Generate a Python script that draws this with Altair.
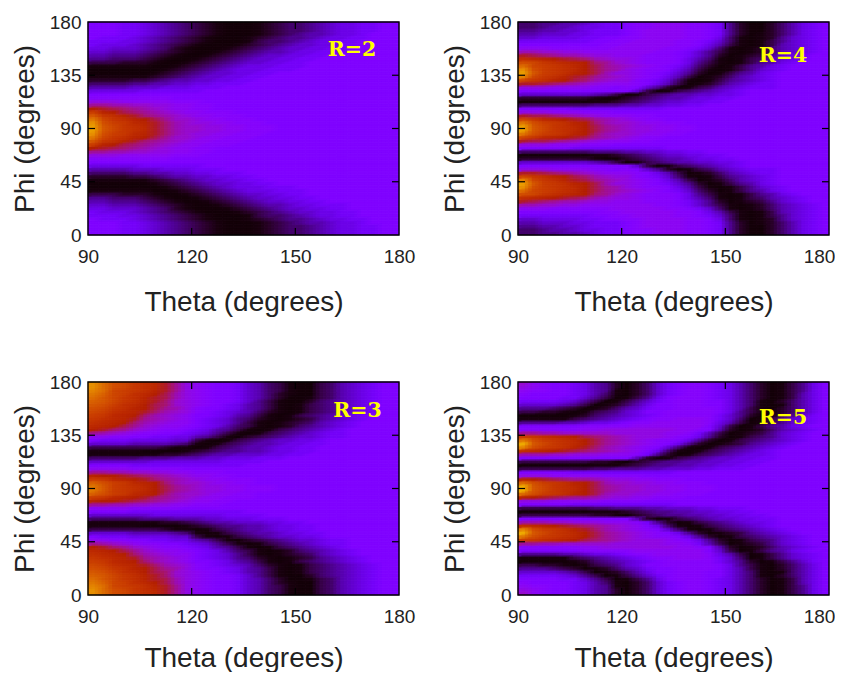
import math
import altair as alt
import pandas as pd

# Intensity, one string per phi row (phi = 1.5, 4.5 ... 88.5),
# one character per theta column (theta = 91.5, 94.5 ... 178.5); the lower half is shown,
# the upper half of each panel mirrors it. Level = index in LEVEL_CHARS.
LEVEL_CHARS = "0123456789abcdefghijklmnopqrstuvwxyz"

R2 = """
aaa99 87654 32100 01234 45678 899aa
aaa99 87654 32100 01234 45678 899aa
aaa99 87654 32100 01234 45678 899aa
aaa99 87654 32100 01234 56678 89aaa
a9998 76543 21000 12345 56788 99aaa
99988 76543 21000 13445 67889 9aaaa
98887 65432 10001 23456 77889 9aaaa
88777 65421 00012 34567 78899 aaaaa
77666 54321 00123 45667 88999 aaaaa
66555 43210 01234 56778 899aa aaaaa
55444 32100 12345 67788 99aaa aaaaa
33322 21001 23456 77889 9aaaa aaaaa
11111 10012 34567 88899 9aaaa aaaaa
00000 00123 45678 88999 aaaaa aaaaa
00000 01234 56778 899aa aaaaa aaaaa
11111 12345 67788 99aaa aaaaa aaaaa
22223 34566 77889 9aaaa aaaaa aaaaa
44445 56677 88999 aaaaa aaaaa aaaaa
66667 77888 999aa aaaaa aaaaa aaaaa
88888 99999 9aaaa aaaaa aaaaa aaaaa
aaaaa aaaaa aaaaa aaaaa aaaaa aaaaa
bbbbb bbbaa aaaaa aaaaa aaaaa aaaaa
dddcc cccbb baaaa aaaaa aaaaa aaaaa
ggffe eddcc bbaaa aaaaa aaaaa aaaaa
kjihg fedcc bbaaa aaaaa aaaaa aaaaa
plkih gfedc cbbba aaaaa aaaaa aaaaa
sonlj hgfed ccbbb aaaaa aaaaa aaaaa
vqonl kigee dccbb baaaa aaaaa aaaaa
xrpom ljhfe ddccb bbaaa aaaaa aaaaa
ysqon mjhfe eddcc bbbaa aaaaa aaaaa
"""

R4 = """
44556 67899 abbcc cbba9 52002 4689a
44566 78899 abbcc cbba9 52002 4689a
55667 78999 abccc cbba9 52002 4689a
66777 88999 abccc cbba9 52012 4689a
77888 899aa bbccc cbba8 41012 5789a
99999 99aab bcccc bba97 41013 5789a
aaaaa aaabb ccccc bba86 31013 6789a
cccbb bbbbc ccccb ba974 10124 6789a
ffeed dcccc cccbb a9753 10124 6789a
jihgf feddc ccbbb a9752 01235 789aa
nmlkj ihfed dcbbb a8641 01346 789aa
rqonm lkhge dcbbb a8531 01356 89aaa
uqpon mkigf edcba 97420 13568 9aaaa
xrpon mkigf dcbba 86310 13578 9aaaa
yspon lkifd dcba9 75201 35689 aaaaa
wqonl jigfe dcba8 63012 46789 aaaaa
qonlk ihfed dba97 41013 56789 aaaaa
jjihg fedcc cba86 30124 67899 aaaaa
dddcc ccbba ba752 01346 78999 aaaaa
aaaaa aaaaa a7301 34567 89aaa aaaaa
77777 77653 01345 66778 89aaa aaaaa
22222 22100 23456 67889 9aaaa aaaaa
00000 00112 34567 78899 aaaaa aaaaa
44444 44555 66778 899aa aaaaa aaaaa
aaaaa 99999 9999a aaaaa aaaaa aaaaa
dddcc cbbba aaaaa aaaaa aaaaa aaaaa
jiihg fedcc cbbaa aaaaa aaaaa aaaaa
qomlk jigfe dcbba aaaaa aaaaa aaaaa
vrpon lkhfe edccb baaaa aaaaa aaaaa
ysqon mkigf eddcc bbaaa aaaaa aaaaa
"""

R3 = """
xurqo nmjgd cbaa9 76431 00346 789aa
xurqo nmjgd cbaa9 76431 00346 789aa
wuqpo nljgd cbaa9 76431 00346 789aa
vtqpn mkifd cbaa9 76421 00346 789aa
usqon ljifd cbaa9 76420 01346 789aa
tsqon ljhed cbaa9 75310 02456 789aa
srpnm kihed cba98 65310 13456 789aa
rqonl kigfd baa98 65310 13456 789aa
qpnml jhfed ba987 64210 13456 789aa
pomlk hfedc aa986 53101 34567 89aaa
onmlj gfedc a9875 42101 23567 89aaa
nmlkh fedcc a9875 31012 34678 9aaaa
mlkig edccb a9864 31012 45678 9aaaa
kjhge dcbba 98653 10134 56789 aaaaa
gfedc bbaa9 87531 01345 67899 aaaaa
ccbba a9988 65310 23456 77899 aaaaa
a9998 88877 31013 45677 889aa aaaaa
77776 66654 10134 56678 899aa aaaaa
33333 33211 01345 66788 99aaa aaaaa
11111 00001 23455 66788 99aaa aaaaa
11111 11223 45667 77889 9aaaa aaaaa
44444 55566 67788 8999a aaaaa aaaaa
77777 78888 88899 99aaa aaaaa aaaaa
aaaa9 99999 99999 aaaaa aaaaa aaaaa
ccccb bbbba aaaaa aaaaa aaaaa aaaaa
ggffe eddcc bbbaa aaaaa aaaaa aaaaa
lkkji hgfed ccbba aaaaa aaaaa aaaaa
pomlk jhgfe dccbb baaaa aaaaa aaaaa
trpom lkhfe edccb baaaa aaaaa aaaaa
vspon mkigf eddcc bbbaa aaaaa aaaaa
"""

R5 = """
ecbaa 98652 02479 abba9 86420 1358a
dcbaa 98652 02479 abba9 86420 1358a
cbbaa 98651 02479 abba9 86420 1358a
baaaa 98641 02479 abba9 86420 1368a
aaaa9 97530 1358a bbba9 86420 1368a
99998 75301 3579a bbbaa 86410 2468a
77776 53012 468aa bbbaa 86410 1468a
55543 20124 679aa bbbba 86310 2468a
33221 01345 78aab bbbba 85310 2468a
00000 12456 789ab bbbb9 75201 3579a
11111 34567 89abb cccb9 74013 5789a
55556 67889 abbcc cccb8 63013 5789a
aaaaa abbbb bcccc ccca7 30135 689aa
bbbbb bccdd ddddd ccba6 20124 6789a
ggffe eeeed ddddc cb963 01235 789aa
ponml kihgf edddc ba852 01345 789aa
vrpon mkigf edcbb a8520 13456 789aa
zsqon mkigf edcba 85201 23567 89aaa
wrpon ljhfe dcba7 41013 45678 9aaaa
nmlkj ihgfe dca84 10134 56789 aaaaa
fffee dddcc cb952 01345 67889 aaaaa
aaaaa aaaaa a6201 34567 78899 aaaaa
33333 33221 02345 56677 8899a aaaaa
00000 00111 23455 66778 899aa aaaaa
33333 33445 55667 77889 99aaa aaaaa
aaaaa 99999 99999 aaaaa aaaaa aaaaa
dddcc cccbb bbaaa aaaaa aaaaa aaaaa
lkjih ggfed dccbb baaaa aaaaa aaaaa
urpon lkife eddcc bbbaa aaaaa aaaaa
zsqon mkigf eeddc cbbba aaaaa aaaaa
"""

THETA_TICKS = [90, 120, 150, 180]
PHI_TICKS = [0, 45, 90, 135, 180]
LABELS = {"R=2": (166.4, 156.3), "R=4": (166.7, 151.0), "R=3": (168.0, 155.5), "R=5": (166.7, 149.6)}

W, H = 311, 213
FONT = "Liberation Sans"

def rows_to_df(text):
    rows = [r.replace(" ", "") for r in text.strip().splitlines()]
    assert len(rows) == 30, len(rows)
    recs = []
    for i, row in enumerate(rows):
        assert len(row) == 30, row
        for j, ch in enumerate(row):
            th = 90 + 3 * j
            v = LEVEL_CHARS.index(ch)
            for lo in (3 * i, 177 - 3 * i):
                recs.append((th, th + 3, lo, lo + 3, v))
    return pd.DataFrame(recs, columns=["t0", "t1", "p0", "p1", "v"])

levels = list(range(36))
colors = []
for i in levels:
    x = i / 40 if i >= 10 else 0.25 * (i / 10) ** 1.4
    r, g, b = math.sqrt(x), x ** 3, max(0.0, math.sin(2 * math.pi * x))
    colors.append("#%02x%02x%02x" % (round(r * 255), round(g * 255), round(b * 255)))
cscale = alt.Scale(domain=levels, range=colors)
xs = alt.Scale(domain=[90, 180], nice=False, zero=False)
ys = alt.Scale(domain=[0, 180], nice=False, zero=False)
common = dict(grid=False, domain=False, ticks=False, labelFontSize=19, titleFontSize=28,
              labelFont=FONT, titleFont=FONT, labelColor="#222", titleColor="#222",
              titleFontWeight="normal", labelFlush=False, labelOverlap=False)
yaxis = alt.Axis(values=PHI_TICKS, labelPadding=7, titlePadding=10, title="Phi (degrees)", **common)

def panel(text, label, title_pad, last_shift=0):
    xaxis = alt.Axis(values=THETA_TICKS, labelPadding=12, titlePadding=title_pad, title="Theta (degrees)",
                     labelOffset={"expr": "datum.value == 180 ? %d : 0" % last_shift}, **common)
    df = rows_to_df(text)
    heat = alt.Chart(df).mark_rect(strokeWidth=0.7).encode(
        x=alt.X("t0:Q", scale=xs, axis=xaxis),
        x2="t1:Q",
        y=alt.Y("p0:Q", scale=ys, axis=yaxis),
        y2="p1:Q",
        color=alt.Color("v:Q", scale=cscale, legend=None),
        stroke=alt.Stroke("v:Q", scale=cscale, legend=None),
    )
    # the same cells again, half-transparent and shifted slightly either way, to soften the block edges
    soft = []
    for sx, sy, alpha in ((-1, -0.75, 0.5), (1, 0.75, 0.34)):
        d = df.copy()
        d["t0"] += sx
        d["t1"] += sx
        d["p0"] += sy
        d["p1"] += sy
        soft.append(alt.Chart(d).mark_rect(opacity=alpha, clip=True).encode(
            x=alt.X("t0:Q", scale=xs, axis=xaxis), x2="t1:Q",
            y=alt.Y("p0:Q", scale=ys, axis=yaxis), y2="p1:Q",
            color=alt.Color("v:Q", scale=cscale, legend=None)))
    L = 7
    xt = pd.DataFrame({"t": THETA_TICKS[1:-1]})
    yt = pd.DataFrame({"p": PHI_TICKS[1:-1]})
    tick = dict(color="black", strokeWidth=1.2)
    X = alt.X("t:Q", scale=xs, axis=xaxis)
    Y = alt.Y("p:Q", scale=ys, axis=yaxis)
    xb = alt.Chart(xt).mark_rule(**tick).encode(x=X, y=alt.value(H), y2=alt.value(H - L))
    xu = alt.Chart(xt).mark_rule(**tick).encode(x=X, y=alt.value(0), y2=alt.value(L))
    yl = alt.Chart(yt).mark_rule(**tick).encode(y=Y, x=alt.value(0), x2=alt.value(L))
    yr = alt.Chart(yt).mark_rule(**tick).encode(y=Y, x=alt.value(W), x2=alt.value(W - L))
    frame = alt.Chart(pd.DataFrame({"a": [0]})).mark_rect(fill=None, stroke="black", strokeWidth=1.4).encode(
        x=alt.value(0), x2=alt.value(W), y=alt.value(0), y2=alt.value(H))
    pos = LABELS[label]
    txt = alt.Chart(pd.DataFrame({"t": [pos[0]], "p": [pos[1]], "s": [label]})).mark_text(
        font="DejaVu Serif", fontWeight="bold", fontSize=20.5, color="#ffff00", align="center", baseline="middle"
    ).encode(x=X, y=Y, text="s:N")
    return alt.layer(heat, *soft, xb, xu, yl, yr, frame, txt).properties(width=W, height=H)

chart = alt.vconcat(
    alt.hconcat(panel(R2, "R=2", 22), panel(R4, "R=4", 22, -10), spacing=26),
    alt.hconcat(panel(R3, "R=3", 18), panel(R5, "R=5", 18, -10), spacing=26),
    spacing=57,
).configure_view(stroke=None).properties(padding={"left": 3, "top": 5, "right": 0, "bottom": 0})

chart.save("out.html", embed_options={"renderer": "svg", "actions": False})
